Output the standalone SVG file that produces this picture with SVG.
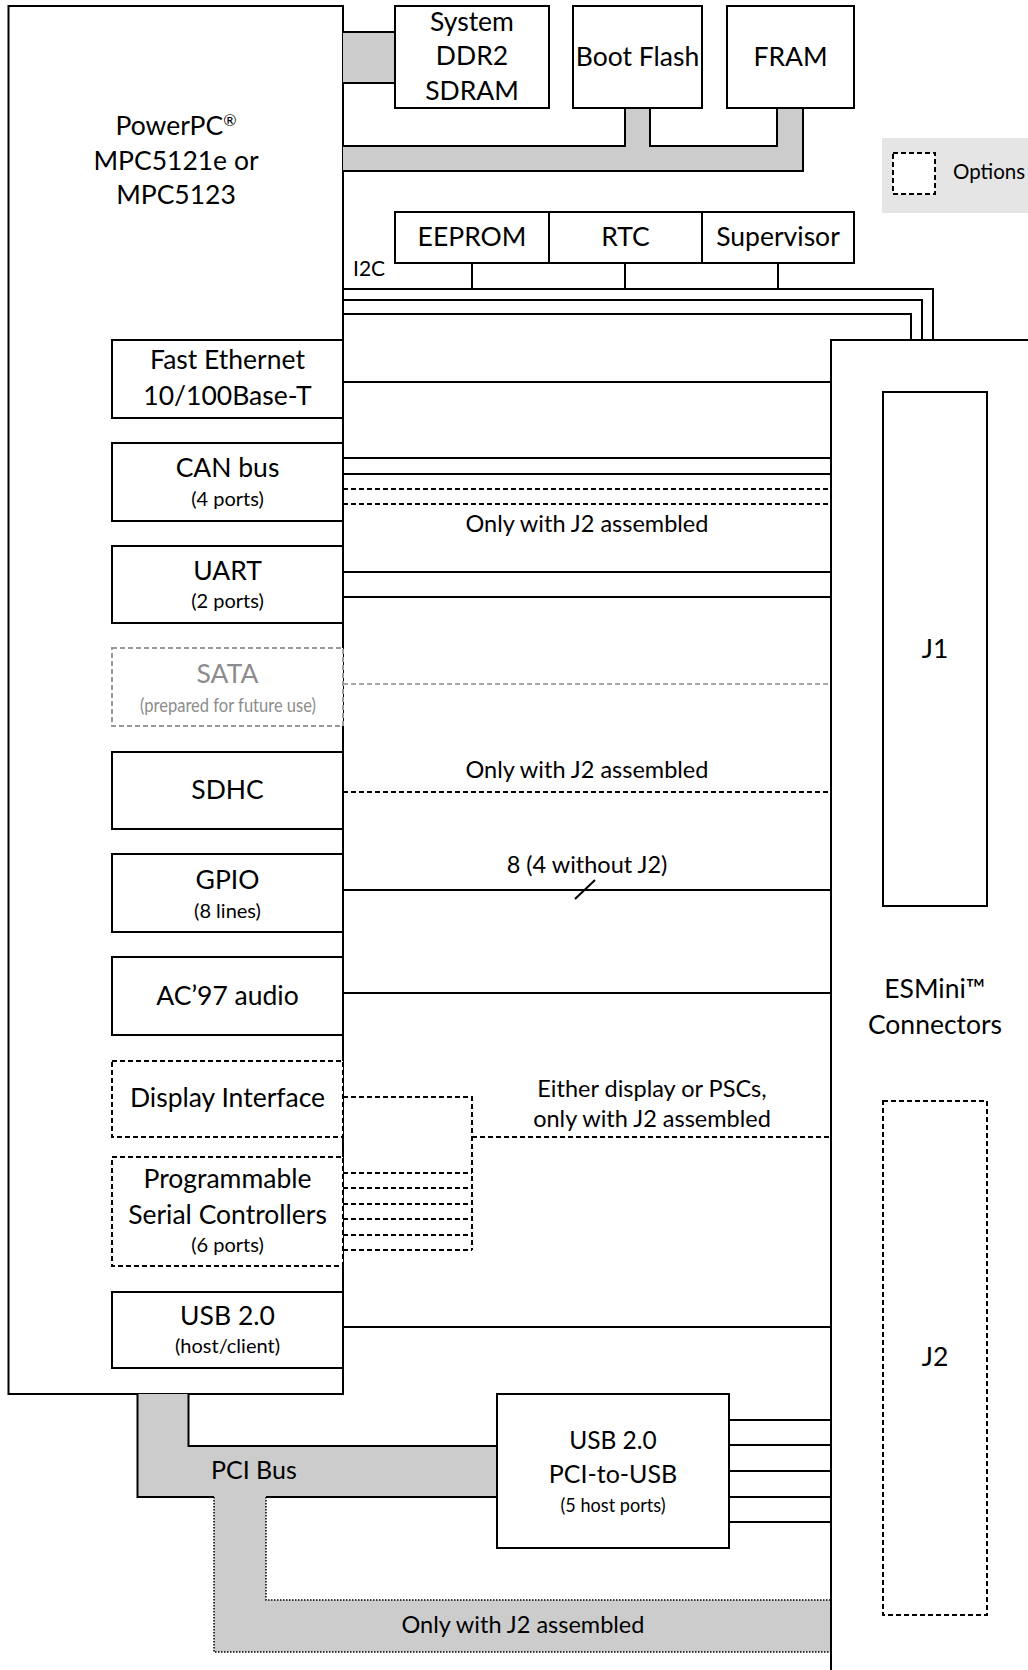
<svg xmlns="http://www.w3.org/2000/svg" width="1028" height="1670" viewBox="0 0 1028 1670">
<style>
.box{fill:#fff;stroke:#000;stroke-width:2}
.dbox{fill:#fff;stroke:#000;stroke-width:2;stroke-dasharray:5,3}
.gbox{fill:#fff;stroke:#9a9a9a;stroke-width:2;stroke-dasharray:5,3}
.ln{fill:none;stroke:#000;stroke-width:2}
.dl{fill:none;stroke:#000;stroke-width:2;stroke-dasharray:5,3}
.gl{fill:none;stroke:#a8a8a8;stroke-width:2;stroke-dasharray:5,3}
.dot{fill:none;stroke:#000;stroke-width:1.5;stroke-dasharray:1.5,1.5}
.busf{fill:#ccc;stroke:none}
.t{font-family:Lato,"Liberation Sans",sans-serif;font-size:26.5px;text-anchor:middle;fill:#000}
.s{font-size:20px}
.m{font-size:23.5px}
.g{fill:#8c8c8c}
</style>
<rect x="0" y="0" width="1028" height="1670" fill="#fff"/>

<g id="legend">
<rect x="882" y="138" width="146" height="75" fill="#e5e5e5"/>
<rect x="893" y="153" width="42" height="41" class="dbox"/>
<text x="953" y="179" class="t" style="text-anchor:start;font-size:20.5px">Options</text>
</g>

<g id="cpu">
<rect x="8.5" y="6" width="334.5" height="1388" class="box"/>
<text class="t" x="176" y="135">PowerPC<tspan font-size="16" dy="-9">®</tspan></text>
<text class="t" x="176" y="170">MPC5121e or</text>
<text class="t" x="176" y="204">MPC5123</text>
</g>

<g id="connectors">
<!-- DDR bus -->
<rect x="343" y="32" width="52" height="51" class="busf"/>
<path d="M343,32 H395 M343,83 H395" class="ln"/>
<!-- memory bus -->
<path d="M343,146 H625 V108 H650 V146 H777 V108 H803 V171 H343 Z" class="busf"/>
<path d="M343,146 H625 V108 M650,108 V146 H777 V108 M803,108 V171 H343" class="ln"/>
<!-- I2C -->
<path d="M472,263 V289 M625,263 V289 M778,263 V289" class="ln"/>
<path d="M343,289 H933 V340 M343,300 H922 V340 M343,314 H911 V340" class="ln"/>
<!-- peripherals to J1/J2 -->
<path d="M343,382 H831" class="ln"/>
<path d="M343,458 H831 M343,474 H831" class="ln"/>
<path d="M343,489 H831 M343,504 H831" class="dl"/>
<path d="M343,572 H831 M343,597 H831" class="ln"/>
<path d="M343,684 H831" class="gl"/>
<path d="M343,792 H831" class="dl"/>
<path d="M343,890 H831 M575,899 L595,880" class="ln"/>
<path d="M343,993 H831" class="ln"/>
<path d="M343,1097 H472 V1250 M472,1137 H831" class="dl"/>
<path d="M343,1173 H472 M343,1188 H472 M343,1204 H472 M343,1219 H472 M343,1235 H472 M343,1250 H472" class="dl"/>
<path d="M343,1327 H831" class="ln"/>
<!-- PCI bus -->
<path d="M137.5,1394 H188.5 V1446 H497 V1497 H137.5 Z" class="busf"/>
<path d="M214,1496 H266 V1600 H831 V1652 H214 Z" class="busf"/>
<path d="M137.5,1394 V1497 H214 M266,1497 H497 M188.5,1394 V1446 H497" class="ln"/>
<path d="M214,1497 V1652 H831 M266,1497 V1600 H831" class="dot"/>
<!-- USB host ports -->
<path d="M729,1420 H831 M729,1445 H831 M729,1471 H831 M729,1497 H831 M729,1522 H831" class="ln"/>
</g>

<g id="labels">
<text class="t" x="353" y="276" style="text-anchor:start;font-size:21px">I2C</text>
<text class="t m" x="587" y="532">Only with J2 assembled</text>
<text class="t m" x="587" y="778">Only with J2 assembled</text>
<text class="t m" x="587" y="873">8 (4 without J2)</text>
<text class="t m" x="652" y="1097">Either display or PSCs,</text>
<text class="t m" x="652" y="1127">only with J2 assembled</text>
<text class="t" x="211" y="1479" style="text-anchor:start;font-size:25px">PCI Bus</text>
<text class="t m" x="523" y="1633">Only with J2 assembled</text>
</g>

<g id="ddr">
<rect x="395" y="6" width="154" height="102" class="box"/>
<text class="t" x="472" y="31">System</text>
<text class="t" x="472" y="65">DDR2</text>
<text class="t" x="472" y="100">SDRAM</text>
</g>
<g id="bootflash">
<rect x="573" y="6" width="129" height="102" class="box"/>
<text class="t" x="637.5" y="66">Boot Flash</text>
</g>
<g id="fram">
<rect x="727" y="6" width="127" height="102" class="box"/>
<text class="t" x="790.5" y="66">FRAM</text>
</g>
<g id="eeprom">
<rect x="395" y="212" width="154" height="51" class="box"/>
<text class="t" x="472" y="246">EEPROM</text>
</g>
<g id="rtc">
<rect x="549" y="212" width="153" height="51" class="box"/>
<text class="t" x="625.5" y="246">RTC</text>
</g>
<g id="supervisor">
<rect x="702" y="212" width="152" height="51" class="box"/>
<text class="t" x="778" y="246">Supervisor</text>
</g>

<g id="ethernet">
<rect x="112" y="340" width="231" height="78" class="box"/>
<text class="t" x="227.5" y="369">Fast Ethernet</text>
<text class="t" x="227.5" y="405">10/100Base-T</text>
</g>
<g id="can">
<rect x="112" y="443" width="231" height="78" class="box"/>
<text class="t" x="227.5" y="477">CAN bus</text>
<text class="t s" x="227.5" y="506">(4 ports)</text>
</g>
<g id="uart">
<rect x="112" y="546" width="231" height="77" class="box"/>
<text class="t" x="227.5" y="580">UART</text>
<text class="t s" x="227.5" y="608">(2 ports)</text>
</g>
<g id="sata">
<rect x="112" y="648" width="231" height="78" class="gbox"/>
<text class="t g" x="227.5" y="683">SATA</text>
<text class="t s g" x="228" y="712" textLength="176" lengthAdjust="spacingAndGlyphs">(prepared for future use)</text>
</g>
<g id="sdhc">
<rect x="112" y="752" width="231" height="77" class="box"/>
<text class="t" x="227.5" y="799">SDHC</text>
</g>
<g id="gpio">
<rect x="112" y="854" width="231" height="78" class="box"/>
<text class="t" x="227.5" y="889">GPIO</text>
<text class="t s" x="227.5" y="918">(8 lines)</text>
</g>
<g id="ac97">
<rect x="112" y="957" width="231" height="78" class="box"/>
<text class="t" x="227.5" y="1005">AC’97 audio</text>
</g>
<g id="display">
<rect x="112" y="1061" width="231" height="76" class="dbox"/>
<text class="t" x="227.5" y="1107">Display Interface</text>
</g>
<g id="psc">
<rect x="112" y="1157" width="231" height="109" class="dbox"/>
<text class="t" x="227.5" y="1188">Programmable</text>
<text class="t" x="227.5" y="1224">Serial Controllers</text>
<text class="t s" x="227.5" y="1252">(6 ports)</text>
</g>
<g id="usb">
<rect x="112" y="1292" width="231" height="76" class="box"/>
<text class="t" x="227.5" y="1325">USB 2.0</text>
<text class="t s" x="227.5" y="1353">(host/client)</text>
</g>

<g id="pciusb">
<rect x="497" y="1394" width="232" height="154" class="box"/>
<text class="t" x="613" y="1449" style="font-size:24.5px">USB 2.0</text>
<text class="t" x="613" y="1483" style="font-size:25px">PCI-to-USB</text>
<text class="t s" x="613" y="1512" textLength="105" lengthAdjust="spacingAndGlyphs">(5 host ports)</text>
</g>

<g id="esmini">
<rect x="831" y="340" width="220" height="1400" class="box"/>
<text class="t" x="935" y="998">ESMini™</text>
<text class="t" x="935" y="1034">Connectors</text>
</g>
<g id="j1">
<rect x="883" y="392" width="104" height="514" class="box"/>
<text class="t" x="935" y="658">J1</text>
</g>
<g id="j2">
<rect x="883" y="1101" width="104" height="514" class="dbox"/>
<text class="t" x="935" y="1366">J2</text>
</g>
</svg>
